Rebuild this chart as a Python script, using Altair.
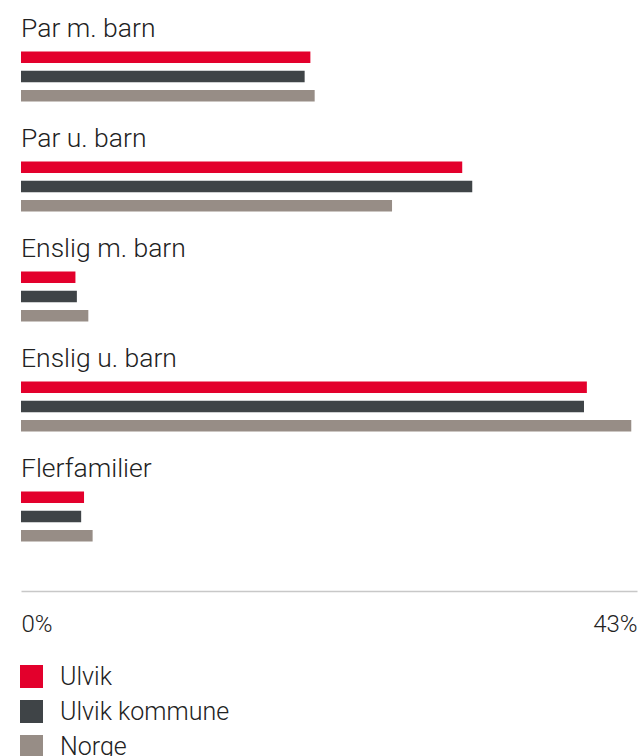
import altair as alt
import pandas as pd

categories = ["Par m. barn", "Par u. barn", "Enslig m. barn", "Enslig u. barn", "Flerfamilier"]
series = ["Ulvik", "Ulvik kommune", "Norge"]
ulvik = [20.2, 30.8, 3.8, 39.5, 4.4]
kommune = [19.8, 31.5, 3.9, 39.3, 4.2]
norge = [20.5, 25.9, 4.7, 42.6, 5.0]
colors = ["#E3002C", "#3F4447", "#978D86"]
x_ticks = [0, 43]

rows = []
for name, vals in zip(series, [ulvik, kommune, norge]):
    for c, v in zip(categories, vals):
        rows.append({"cat": c, "serie": name, "value": v})
df = pd.DataFrame(rows)
labels_df = pd.DataFrame({"cat": categories})

FONT = "Roboto"
y_scale = alt.Scale(domain=categories, paddingInner=0, paddingOuter=0)

bars = alt.Chart(df).mark_bar(cornerRadius=0).encode(
    x=alt.X("value:Q",
            scale=alt.Scale(domain=[0, 43], nice=False, zero=True),
            axis=alt.Axis(values=x_ticks, labelExpr="datum.value + '%'", title=None,
                          grid=False, ticks=False, labelFlush=True, offset=41,
                          domainColor="#C8C8C8", domainWidth=1.5,
                          labelFont=FONT, labelFontSize=24, labelFontWeight=300,
                          labelColor="#222222", labelPadding=21)),
    y=alt.Y("cat:N", scale=y_scale, axis=None, sort=categories),
    yOffset=alt.YOffset("serie:N", sort=series,
                        scale=alt.Scale(domain=series, range=[51.5, 101.5],
                                        paddingInner=0.4, paddingOuter=0)),
    color=alt.Color("serie:N", sort=series,
                    scale=alt.Scale(domain=series, range=colors),
                    legend=alt.Legend(title=None, orient="none", legendX=-2, legendY=664,
                                      direction="vertical", symbolType="square",
                                      symbolSize=529, symbolStrokeWidth=0,
                                      labelFont=FONT, labelFontSize=25, labelFontWeight=300,
                                      labelColor="#222222", labelOffset=16, rowPadding=9,
                                      labelLimit=400)),
)

labels = alt.Chart(labels_df).mark_text(
    align="left", baseline="alphabetic", dy=37, font=FONT, fontSize=26.5, fontWeight=300,
    color="#222222"
).encode(
    x=alt.value(0),
    y=alt.Y("cat:N", scale=y_scale, axis=None, sort=categories, bandPosition=0),
    text="cat:N",
)

chart = alt.layer(bars, labels).properties(
    width=616, height=550,
    autosize=alt.AutoSizeParams(type="none"),
    padding={"left": 21, "top": 0, "right": 1, "bottom": 206},
).configure_view(stroke=None)

chart.save("out.html", embed_options={"renderer": "svg", "actions": False})
